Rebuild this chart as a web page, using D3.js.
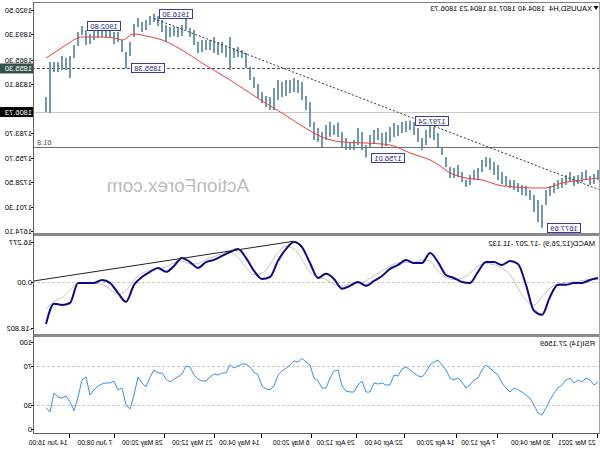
<!DOCTYPE html>
<html><head><meta charset="utf-8">
<script src="https://cdn.jsdelivr.net/npm/d3@7"></script>
<style>body{margin:0;background:#fff}svg{display:block}text{font-family:"Liberation Sans",Arial,sans-serif}</style>
</head><body><svg id="c" width="600" height="450"></svg>
<script>
// ---- data (chronological, bar index 0 = 22 Mar 2021) ----
const priceHigh=[1742.1,1737.7,1735.4,1742.1,1739.9,1736.6,1735.4,1739.9,1736.6,1733.2,
1731.0,1727.6,1724.3,1719.8,1703.1,1708.7,1714.3,1719.8,1724.3,1725.4,
1727.6,1731.0,1731.0,1735.4,1739.9,1747.7,1751.1,1755.5,1756.6,1753.3,
1744.4,1742.1,1736.6,1731.0,1739.9,1747.7,1744.4,1745.5,1756.6,1767.8,
1783.4,1790.1,1792.3,1786.7,1777.8,1789.0,1795.7,1797.2,1796.8,1795.7,
1792.3,1794.5,1790.1,1784.5,1783.4,1789.0,1786.7,1781.2,1770.0,1784.5,
1789.0,1775.6,1773.4,1777.8,1784.5,1795.0,1792.3,1796.0,1792.3,1784.5,
1789.0,1795.7,1817.9,1824.6,1840.2,1842.5,1844.7,1842.5,1842.5,1840.2,
1842.5,1833.6,1823.5,1824.6,1829.1,1838.0,1845.8,1857.0,1872.6,1875.9,
1879.3,1878.1,1890.4,1880.4,1884.8,1884.8,1890.4,1887.1,1887.1,1887.1,
1884.8,1898.2,1900.5,1911.6,1903.8,1901.6,1901.6,1901.6,1903.8,1909.4,
1913.8,1916.3,1913.8,1909.4,1907.1,1911.6,1904.9,1884.8,1873.7,1887.1,
1896.0,1896.0,1900.5,1901.6,1902.7,1900.5,1898.2,1893.8,1898.2,1902.8,
1896.0,1881.5,1869.2,1867.0,1869.2,1862.5,1862.5,1862.5,1823.5];
const priceLow=[1731.0,1726.5,1725.4,1731.0,1728.8,1726.5,1724.3,1728.8,1725.4,1722.1,
1720.9,1716.5,1713.1,1703.1,1677.7,1684.2,1695.3,1708.7,1713.1,1714.3,
1717.6,1719.8,1722.1,1724.3,1726.5,1731.0,1736.6,1742.1,1745.5,1739.9,
1731.0,1731.0,1725.4,1723.2,1728.8,1734.3,1733.2,1733.2,1745.5,1758.9,
1767.8,1775.6,1777.8,1770.0,1764.4,1773.4,1781.2,1786.7,1784.5,1783.4,
1780.0,1778.9,1773.4,1768.9,1767.8,1775.6,1771.1,1766.7,1756.0,1764.4,
1770.0,1764.4,1764.4,1764.4,1766.7,1778.9,1781.2,1778.9,1775.6,1767.8,
1773.4,1775.6,1790.1,1809.0,1820.2,1828.0,1829.1,1828.0,1824.6,1823.5,
1820.2,1809.0,1809.0,1812.4,1816.8,1822.4,1833.6,1842.5,1855.9,1867.0,
1868.1,1867.0,1853.6,1868.1,1872.6,1870.3,1872.6,1875.9,1875.9,1873.7,
1872.6,1881.5,1890.4,1898.2,1891.5,1890.4,1891.5,1890.4,1884.8,1896.0,
1902.7,1907.1,1903.8,1898.2,1896.0,1901.6,1890.4,1869.2,1855.4,1873.7,
1884.8,1882.6,1890.4,1890.4,1890.4,1889.3,1887.1,1882.6,1881.5,1892.6,
1880.4,1867.0,1844.7,1853.6,1853.6,1851.4,1851.4,1805.7,1806.8];
const maIndex=[0,4,9,13,17,21,25,29,33,37,41,47,52,58,64,69,74,79,84,92,99,104,109,113,116,119,121,125,129,133,136,138];
const maValue=[1733.2,1731.0,1727.6,1722.1,1722.1,1723.2,1725.4,1731.0,1733.2,1738.8,1751.1,1761.1,1770.0,1772.2,1773.4,1778.9,1791.2,1805.7,1819.1,1842.5,1861.4,1875.9,1887.1,1891.5,1893.8,1887.1,1889.3,1890.4,1890.4,1881.5,1872.6,1867.0];
const fractalIndex=[111,129,118,47,58,14];
const fractalValue=[1916.30,1902.80,1855.38,1797.24,1756.01,1677.69];
const trendIndex=[111,-0.5];
const trendValue=[1911.0,1719.8];
const priceTicks=[1920.50,1893.30,1865.30,1838.10,1783.70,1755.70,1728.50,1701.30,1674.10];
const levelValue=1855.30, bidValue=1806.73, fibValue=1767.8, fibLabel="61.8";
const title="XAUUSD,H4  1804.40 1807.18 1804.23 1806.73";

const macdStep=2;
const macdMain=[1.6,0.8,-0.4,-0.4,-1.2,-1.2,-6.1,-13.4,-11.8,-1.2,
7.3,8.5,6.9,8.1,8.1,4.1,-0.4,0.0,1.6,2.8,
8.1,11.8,7.7,7.7,8.9,6.9,5.3,2.4,0.4,-1.6,
0.0,-1.6,-2.8,1.2,3.3,1.6,7.7,14.2,16.3,13.4,
8.6,2.0,1.2,4.5,9.8,13.4,12.2,10.6,9.0,8.1,
5.7,8.1,9.8,6.5,4.1,5.7,4.1,2.0,-1.2,-8.1,
-4.5,-0.4,0.8,-0.4,-0.4,-0.4,-8.6,-9.4,-8.9,-17.207];
const macdSignal=[1.0,1.0,0.5,0.0,-0.5,-0.9,-2.5,-6.0,-9.5,-7.5,
-2.5,3.0,5.5,7.0,7.5,6.5,3.5,1.5,1.0,1.8,
4.5,8.5,9.0,8.0,8.0,7.8,6.5,4.5,2.5,0.5,
-0.5,-0.8,-1.8,-1.0,1.0,2.0,4.0,9.0,13.5,14.5,
12.0,7.0,3.5,3.0,6.0,10.0,12.0,11.5,10.3,9.2,
7.5,7.3,8.5,7.8,6.0,5.5,4.8,3.5,1.0,-3.5,
-5.0,-3.0,-1.0,-0.5,-0.4,-0.4,-3.5,-6.5,-8.0,-11.132];
const macdTrendIndex=[76,141], macdTrendValue=[16.6,0.4];
const macdTicks=[16.277,0.00,-18.802];
const macdLabel="MACD(12,26,9) -17.207 -11.132";

const rsi=[53.6,50.5,55.7,57.7,53.6,55.7,52.6,57.7,55.7,50.5,
47.4,42.3,35.1,26.8,19.6,21.6,29.9,37.1,40.2,43.3,
45.4,47.4,43.3,47.4,52.6,60.8,63.9,68.0,71.1,66.0,
57.7,55.7,50.5,47.4,53.6,57.7,55.7,57.7,66.0,71.1,
76.3,74.2,71.1,63.9,58.8,59.8,62.9,66.0,69.1,67.0,
59.8,60.8,50.5,50.5,52.6,51.5,52.6,43.3,43.3,54.6,
50.5,43.3,43.3,44.3,49.5,66.0,64.9,57.7,47.4,47.4,
54.6,57.7,71.1,74.2,78.0,74.2,75.3,71.1,68.0,64.9,
60.8,49.5,45.4,46.4,49.5,60.8,63.9,69.1,72.2,72.2,
70.1,68.0,71.1,62.9,62.9,60.8,61.9,58.8,54.6,54.6,
56.7,60.8,69.1,70.1,61.9,58.8,56.7,53.6,56.7,62.9,
62.9,66.0,58.8,48.5,52.6,58.8,40.2,25.8,29.9,47.4,
45.4,54.6,52.6,52.6,51.5,49.5,45.4,40.2,58.8,55.7,
38.1,24.0,33.0,39.2,37.1,38.1,42.3,22.7,27.1569];
const rsiTicks=[100,70,30,0];
const rsiLevels=[70,30];
const rsiLabel="RSI(14) 27.1569";

const timeLabels=["22 Mar 2021","30 Mar 04:00","7 Apr 12:00","14 Apr 20:00","22 Apr 04:00","29 Apr 12:00","6 May 20:00","14 May 04:00","21 May 12:00","28 May 20:00","7 Jun 08:00","14 Jun 16:00"];
const timeIndex=[0,11.25,25,35.25,48.25,60.25,71.5,84,95.75,108.25,120.75,132];

// ---- drawing ----
const svg=d3.select('#c');
svg.append('rect').attr('width',600).attr('height',450).attr('fill','#fff');
const defs=svg.append('defs');
// whole chart is drawn mirrored horizontally, like the reference
const g=svg.append('g').attr('transform','translate(600,0) scale(-1,1)');
const PR=566;
const P={price:[2,233],macd:[236,334],rsi:[337,433]};
Object.entries(P).forEach(([k,[a,b]])=>{
  defs.append('clipPath').attr('id','cl-'+k).append('rect').attr('x',0).attr('y',a).attr('width',PR).attr('height',b-a);
});
const x=d3.scaleLinear().domain([0,138]).range([2,554]);
const yP=d3.scaleLinear().domain([1674.1,1920.5]).range([231,10]);
const yM=d3.scaleLinear().domain([-18.802,16.277]).range([328,242]);
const yR=d3.scaleLinear().domain([0,100]).range([434,337]);
const FS=7.5;

// watermark
g.append('text').attr('x',422).attr('y',192).attr('text-anchor','middle').attr('font-size',19).attr('fill','#bcbcbc').text('ActionForex.com');

// price panel
const gp=g.append('g').attr('clip-path','url(#cl-price)');
gp.append('line').attr('x1',0).attr('x2',PR).attr('y1',Math.round(yP(bidValue))+0.5).attr('y2',Math.round(yP(bidValue))+0.5).attr('stroke','#c8c8c8');
gp.append('line').attr('x1',0).attr('x2',PR).attr('y1',Math.round(yP(levelValue))+0.5).attr('y2',Math.round(yP(levelValue))+0.5).attr('stroke','#555').attr('stroke-dasharray','3,2');
gp.append('line').attr('x1',0).attr('x2',PR).attr('y1',Math.round(yP(fibValue))+0.5).attr('y2',Math.round(yP(fibValue))+0.5).attr('stroke','#6e6e6e');
gp.append('text').attr('x',563).attr('y',yP(fibValue)-2).attr('text-anchor','end').attr('font-size',FS).attr('fill','#555').text(fibLabel);
gp.selectAll('line.bar').data(priceHigh).enter().append('line').attr('class','bar')
  .attr('x1',(d,i)=>x(i)).attr('x2',(d,i)=>x(i)).attr('y1',d=>yP(d)).attr('y2',(d,i)=>yP(priceLow[i]))
  .attr('stroke','#5a87a0').attr('stroke-width',1.7);
gp.append('path').datum(maIndex.map((d,i)=>[d,maValue[i]])).attr('fill','none').attr('stroke','#e8423c').attr('stroke-width',1)
  .attr('d',d3.line().x(d=>x(d[0])).y(d=>yP(d[1])).curve(d3.curveMonotoneX));
gp.append('line').attr('x1',x(trendIndex[0])).attr('y1',yP(trendValue[0])).attr('x2',x(trendIndex[1])).attr('y2',yP(trendValue[1]))
  .attr('stroke','#333').attr('stroke-dasharray','2,2');
fractalIndex.forEach((fi,k)=>{
  const bx=x(fi)-5-34, by=yP(fractalValue[k])-5;
  gp.append('rect').attr('x',bx+0.5).attr('y',Math.round(by)+0.5).attr('width',33).attr('height',9).attr('fill','#fff').attr('stroke','#3b3ba8');
  gp.append('text').attr('x',bx+17).attr('y',Math.round(by)+8).attr('text-anchor','middle').attr('font-size',FS).attr('fill','#1c1c90').text(fractalValue[k].toFixed(2));
});
g.append('text').attr('x',8).attr('y',11).attr('font-size',FS).attr('fill','#000').attr('xml:space','preserve').text(title);
g.append('path').attr('d','M1.5,6L6.5,6L4,10Z').attr('fill','#000');

// price axis
priceTicks.forEach(v=>{
  const yy=Math.round(yP(v))+0.5;
  g.append('line').attr('x1',PR).attr('x2',PR+3).attr('y1',yy).attr('y2',yy).attr('stroke','#000');
  g.append('text').attr('x',568).attr('y',yy+2.7).attr('font-size',FS).attr('fill','#000').text(v.toFixed(2));
});
[[levelValue,'#34514a'],[bidValue,'#000']].forEach(([v,c])=>{
  const yy=yP(v);
  g.append('rect').attr('x',566).attr('y',yy-5).attr('width',34).attr('height',10).attr('fill',c);
  g.append('text').attr('x',568).attr('y',yy+2.7).attr('font-size',FS).attr('fill','#fff').text(v.toFixed(2));
});

// MACD panel
const gm=g.append('g').attr('clip-path','url(#cl-macd)');
gm.append('line').attr('x1',0).attr('x2',PR).attr('y1',Math.round(yM(0))+0.5).attr('y2',Math.round(yM(0))+0.5).attr('stroke','#c8c8c8').attr('stroke-dasharray','3,2');
gm.append('path').datum(macdSignal).attr('fill','none').attr('stroke','#c4c4c4').attr('stroke-width',1)
  .attr('d',d3.line().x((d,i)=>x(i*macdStep)).y(d=>yM(d)).curve(d3.curveMonotoneX));
gm.append('path').datum(macdMain).attr('fill','none').attr('stroke','#0a0a85').attr('stroke-width',2)
  .attr('d',d3.line().x((d,i)=>x(i*macdStep)).y(d=>yM(d)).curve(d3.curveMonotoneX));
gm.append('line').attr('x1',x(macdTrendIndex[0])).attr('y1',yM(macdTrendValue[0])).attr('x2',x(macdTrendIndex[1])).attr('y2',yM(macdTrendValue[1])).attr('stroke','#222');
g.append('text').attr('x',5).attr('y',246).attr('font-size',FS).attr('fill','#000').text(macdLabel);
macdTicks.forEach(v=>{
  const yy=Math.round(yM(v))+0.5;
  g.append('line').attr('x1',PR).attr('x2',PR+3).attr('y1',yy).attr('y2',yy).attr('stroke','#000');
  g.append('text').attr('x',568).attr('y',yy+2.7).attr('font-size',FS).attr('fill','#000').text(v.toFixed(v===0?2:3));
});

// RSI panel
const gr=g.append('g').attr('clip-path','url(#cl-rsi)');
rsiLevels.forEach(v=>gr.append('line').attr('x1',0).attr('x2',PR).attr('y1',Math.round(yR(v))+0.5).attr('y2',Math.round(yR(v))+0.5).attr('stroke','#c8c8c8').attr('stroke-dasharray','3,2'));
gr.append('path').datum(rsi).attr('fill','none').attr('stroke','#3b8fe5').attr('stroke-width',1)
  .attr('d',d3.line().x((d,i)=>x(i)).y(d=>yR(d)));
g.append('text').attr('x',5).attr('y',346).attr('font-size',FS).attr('fill','#000').text(rsiLabel);
rsiTicks.forEach(v=>{
  const yy=Math.min(Math.max(Math.round(yR(v)),342),429)+0.5;
  g.append('line').attr('x1',PR).attr('x2',PR+3).attr('y1',yy).attr('y2',yy).attr('stroke','#000');
  g.append('text').attr('x',568).attr('y',yy+2.7).attr('font-size',FS).attr('fill','#000').text(String(v));
});

// frames & separators
g.append('line').attr('x1',0).attr('x2',PR).attr('y1',2.5).attr('y2',2.5).attr('stroke','#808080');
g.append('rect').attr('x',0).attr('y',233).attr('width',PR).attr('height',3).attr('fill','#8a8a8a');
g.append('rect').attr('x',0).attr('y',334).attr('width',PR).attr('height',3).attr('fill','#8a8a8a');
g.append('line').attr('x1',0).attr('x2',PR+1).attr('y1',433.5).attr('y2',433.5).attr('stroke','#606060');
g.append('line').attr('x1',PR+0.5).attr('x2',PR+0.5).attr('y1',2).attr('y2',434).attr('stroke','#606060');
g.append('line').attr('x1',0.5).attr('x2',0.5).attr('y1',2).attr('y2',434).attr('stroke','#a0a0a0');

// time axis
timeIndex.forEach((ti,k)=>{
  const xx=Math.round(x(ti))+0.5;
  g.append('line').attr('x1',xx).attr('x2',xx).attr('y1',434).attr('y2',438).attr('stroke','#000');
  g.append('text').attr('x',xx+2).attr('y',445).attr('font-size',6.7).attr('fill','#000').text(timeLabels[k]);
});
</script></body></html>
